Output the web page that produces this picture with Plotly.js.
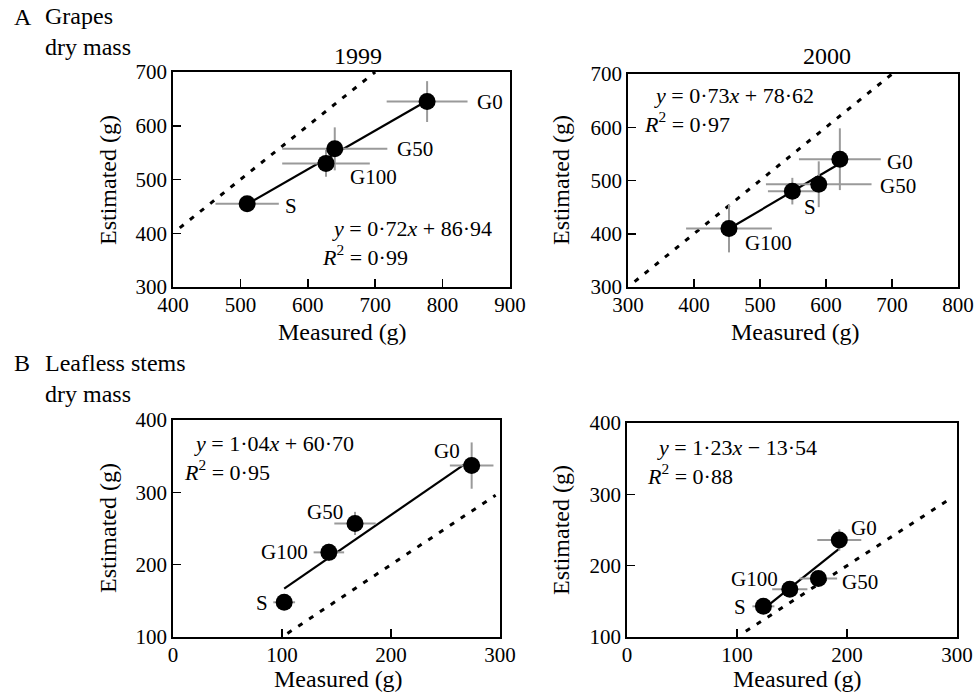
<!DOCTYPE html>
<html>
<head>
<meta charset="utf-8">
<script src="https://cdn.plot.ly/plotly-3.0.1.min.js"></script>
<style>html,body{margin:0;padding:0;background:#fff;}#chart{width:978px;height:693px;}</style>
</head>
<body>
<div id="chart"></div>
<script>
// ---- Data ----
// Panel A 1999 (grapes dry mass)
const a99Names = ['S', 'G100', 'G50', 'G0'];
const a99Meas = [510, 627, 640, 777];
const a99Est = [455, 530, 557, 645];
const a99ErrX = [47, 65, 78, 60];
const a99ErrY = [4, 25, 40, 38];
const a99Fit = [0.72, 86.94];
const a99Eq = ['0·72', '+ 86·94', '0·99'];
const a99OneToOne = [410, 700];

// Panel A 2000
const a00Names = ['G100', 'S', 'G50', 'G0'];
const a00Meas = [453, 549, 589, 621];
const a00Est = [410, 480, 493, 540];
const a00ErrX = [65, 37, 80, 62];
const a00ErrY = [45, 25, 43, 58];
const a00Fit = [0.73, 78.62];
const a00Eq = ['0·73', '+ 78·62', '0·97'];
const a00OneToOne = [310, 700];

// Panel B 1999 (leafless stems dry mass)
const b99Names = ['S', 'G100', 'G50', 'G0'];
const b99Meas = [102, 143, 167, 274];
const b99Est = [148, 217, 257, 337];
const b99ErrX = [10, 14, 19, 20];
const b99ErrY = [5, 12, 16, 32];
const b99Fit = [1.04, 60.70];
const b99Eq = ['1·04', '+ 60·70', '0·95'];
const b99OneToOne = [105, 296];

// Panel B 2000
const b00Names = ['S', 'G100', 'G50', 'G0'];
const b00Meas = [124, 148, 174, 193];
const b00Est = [143, 167, 182, 236];
const b00ErrX = [10, 16, 17, 20];
const b00ErrY = [5, 10, 8, 15];
const b00Fit = [1.23, -13.54];
const b00Eq = ['1·23', '− 13·54', '0·88'];
const b00OneToOne = [108, 295];

// Tick values
const aX99Ticks = [400, 500, 600, 700, 800, 900];
const aX00Ticks = [300, 400, 500, 600, 700, 800];
const aYTicks = [300, 400, 500, 600, 700];
const bXTicks = [0, 100, 200, 300];
const bYTicks = [100, 200, 300, 400];

// ---- Rendering ----
const W = 978, H = 693;
const FONT = 'Liberation Serif, Times New Roman, serif';
const FS = 21;      // ticks, point labels
const FT = 24;      // titles / headings
const FE = 22;      // equations
const px = v => v / W;
const py = v => 1 - v / H;

function panelTraces(meas, est, ex, ey, fit, oto, xa, ya) {
  const xmin = Math.min(...meas), xmax = Math.max(...meas);
  return [
    {x: oto, y: oto, xaxis: xa, yaxis: ya, mode: 'lines', hoverinfo: 'skip',
     line: {color: '#000', width: 3, dash: '5px,8px'}},
    {x: [xmin, xmax], y: [fit[0] * xmin + fit[1], fit[0] * xmax + fit[1]], xaxis: xa, yaxis: ya,
     mode: 'lines', line: {color: '#000', width: 2.2}},
    {x: meas, y: est, xaxis: xa, yaxis: ya, mode: 'markers',
     marker: {color: '#000', size: 17},
     error_x: {type: 'data', array: ex, visible: true, color: '#9a9a9a', thickness: 2, width: 0},
     error_y: {type: 'data', array: ey, visible: true, color: '#9a9a9a', thickness: 2, width: 0}}
  ];
}

const data = [].concat(
  panelTraces(a99Meas, a99Est, a99ErrX, a99ErrY, a99Fit, a99OneToOne, 'x', 'y'),
  panelTraces(a00Meas, a00Est, a00ErrX, a00ErrY, a00Fit, a00OneToOne, 'x2', 'y2'),
  panelTraces(b99Meas, b99Est, b99ErrX, b99ErrY, b99Fit, b99OneToOne, 'x3', 'y3'),
  panelTraces(b00Meas, b00Est, b00ErrX, b00ErrY, b00Fit, b00OneToOne, 'x4', 'y4')
);

function axis(domain, range, ticks, anchor, isX) {
  const a = {
    domain: domain, range: range, anchor: anchor, tickvals: ticks, ticktext: ticks.map(String),
    showline: true, linecolor: '#000', linewidth: 1.8, mirror: true,
    ticks: 'inside', ticklen: 8, tickwidth: 1.5, tickcolor: '#000',
    showgrid: false, zeroline: false, fixedrange: true,
    tickfont: {family: FONT, size: FS, color: '#000'}
  };
  if (isX) a.ticklabelstandoff = -2;
  return a;
}

const txt = (x, y, text, opts) => Object.assign({
  x: x, y: y, xref: 'paper', yref: 'paper', text: text, showarrow: false,
  font: {family: FONT, size: FT, color: '#000'}, xanchor: 'left', yanchor: 'middle', align: 'left'
}, opts || {});

const lab = (xr, yr, x, y, text, anchor) => ({
  x: x, y: y, xref: xr, yref: yr, text: text, showarrow: false,
  font: {family: FONT, size: FS, color: '#000'}, xanchor: anchor, yanchor: 'middle'
});

const eqBlock = (e) => '&nbsp;&nbsp;<i>y</i> = ' + e[0] + '<i>x</i> ' + e[1] +
  '<br><i>R</i><sup>2</sup> = ' + e[2];
const eqFont = {family: FONT, size: FE, color: '#000'};

const annotations = [
  txt(px(12), py(17), 'A'), txt(px(43), py(31), 'Grapes<br>dry mass'),
  txt(px(12), py(363), 'B'), txt(px(43), py(378), 'Leafless stems<br>dry mass'),
  txt(px(358), py(56), '1999', {xanchor: 'center'}),
  txt(px(827), py(56), '2000', {xanchor: 'center'}),
  txt(px(108), py(180), 'Estimated (g)', {xanchor: 'center', textangle: -90}),
  txt(px(561), py(180), 'Estimated (g)', {xanchor: 'center', textangle: -90}),
  txt(px(108), py(528), 'Estimated (g)', {xanchor: 'center', textangle: -90}),
  txt(px(561), py(530), 'Estimated (g)', {xanchor: 'center', textangle: -90}),
  txt(px(342), py(332), 'Measured (g)', {xanchor: 'center'}),
  txt(px(795), py(332), 'Measured (g)', {xanchor: 'center'}),
  txt(px(338), py(679), 'Measured (g)', {xanchor: 'center'}),
  txt(px(797), py(679), 'Measured (g)', {xanchor: 'center'}),
  // equations
  txt(px(320), py(243), eqBlock(a99Eq), {font: eqFont}),
  txt(px(642), py(110), eqBlock(a00Eq), {font: eqFont}),
  txt(px(182), py(458), eqBlock(b99Eq), {font: eqFont}),
  txt(px(645), py(462), eqBlock(b00Eq), {font: eqFont}),
  // point labels
  lab('x', 'y', 848, 645, a99Names[3], 'left'),
  lab('x', 'y', 729, 557, a99Names[2], 'left'),
  lab('x', 'y', 660, 504, a99Names[1], 'left'),
  lab('x', 'y', 563, 451, a99Names[0], 'left'),
  lab('x2', 'y2', 689, 535, a00Names[3], 'left'),
  lab('x2', 'y2', 679, 490, a00Names[2], 'left'),
  lab('x2', 'y2', 564, 450, a00Names[1], 'left'),
  lab('x2', 'y2', 474, 383, a00Names[0], 'left'),
  lab('x3', 'y3', 265, 357, b99Names[3], 'right'),
  lab('x3', 'y3', 158, 273, b99Names[2], 'right'),
  lab('x3', 'y3', 126, 218, b99Names[1], 'right'),
  lab('x3', 'y3', 89, 147, b99Names[0], 'right'),
  lab('x4', 'y4', 202, 253, b00Names[3], 'left'),
  lab('x4', 'y4', 194, 177, b00Names[2], 'left'),
  lab('x4', 'y4', 139, 181, b00Names[1], 'right'),
  lab('x4', 'y4', 110, 142, b00Names[0], 'right')
];

const layout = {
  width: W, height: H, margin: {l: 0, r: 0, t: 0, b: 0},
  paper_bgcolor: '#fff', plot_bgcolor: '#fff', showlegend: false,
  font: {family: FONT, size: FS, color: '#000'},
  xaxis: axis([px(173), px(510)], [400, 900], aX99Ticks, 'y', true),
  yaxis: axis([py(287), py(72)], [300, 700], aYTicks, 'x'),
  xaxis2: axis([px(628), px(958)], [300, 800], aX00Ticks, 'y2', true),
  yaxis2: axis([py(287), py(74)], [300, 700], aYTicks, 'x2'),
  xaxis3: axis([px(173), px(500)], [0, 300], bXTicks, 'y3', true),
  yaxis3: axis([py(637), py(420)], [100, 400], bYTicks, 'x3'),
  xaxis4: axis([px(627), px(957)], [0, 300], bXTicks, 'y4', true),
  yaxis4: axis([py(637), py(423)], [100, 400], bYTicks, 'x4'),
  annotations: annotations
};

Plotly.newPlot('chart', data, layout, {staticPlot: true, displayModeBar: false});
</script>
</body>
</html>
